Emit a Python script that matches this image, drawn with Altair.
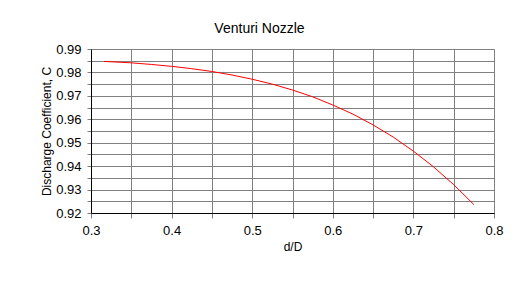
import altair as alt
import pandas as pd

ratio = [0.316, 0.35, 0.375, 0.4, 0.425, 0.45, 0.475, 0.5, 0.525, 0.55,
         0.575, 0.6, 0.625, 0.65, 0.675, 0.7, 0.725, 0.75, 0.775]
coef = [0.9847, 0.9841, 0.9834, 0.9826, 0.9816, 0.9804, 0.9789, 0.9771, 0.9750, 0.9725,
        0.9696, 0.9661, 0.9622, 0.9576, 0.9524, 0.9464, 0.9397, 0.9321, 0.9236]

x_grid = [0.3, 0.35, 0.4, 0.45, 0.5, 0.55, 0.6, 0.65, 0.7, 0.75, 0.8]
y_grid = [0.92, 0.925, 0.93, 0.935, 0.94, 0.945, 0.95, 0.955, 0.96, 0.965,
          0.97, 0.975, 0.98, 0.985, 0.99]

df = pd.DataFrame({"r": ratio, "c": coef})

FONT = "Liberation Sans"

chart = alt.Chart(df).mark_line(color="#ff0000", strokeWidth=1).encode(
    x=alt.X("r:Q", title="d/D",
            scale=alt.Scale(domain=[0.3, 0.8], nice=False, zero=False),
            axis=alt.Axis(values=x_grid,
                          labelExpr="abs(round(datum.value*100) % 10) == 0 ? format(datum.value, '.1f') : ''",
                          labelFlush=False,
                          grid=True, gridColor="#808080", gridOpacity=1, gridWidth=1,
                          domainColor="#000000", tickColor="#808080", tickSize=5,
                          labelPadding=6, labelFontSize=13, labelColor="#000000",
                          titleFontSize=12, titleFontWeight="normal", titleColor="#000000",
                          titlePadding=4, labelFont=FONT, titleFont=FONT)),
    y=alt.Y("c:Q", title="Discharge Coefficient, C",
            scale=alt.Scale(domain=[0.92, 0.99], nice=False, zero=False),
            axis=alt.Axis(values=y_grid,
                          labelExpr="abs(round(datum.value*1000) % 10) == 0 ? format(datum.value, '.2f') : ''",
                          labelFlush=False,
                          grid=True, gridColor="#808080", gridOpacity=1, gridWidth=1,
                          domainColor="#000000", tickColor="#808080", tickSize=4,
                          labelPadding=6, labelFontSize=13, labelColor="#000000",
                          titleFontSize=12, titleFontWeight="normal", titleColor="#000000",
                          titlePadding=2, labelFont=FONT, titleFont=FONT)),
).properties(
    width=403, height=164,
    title=alt.TitleParams("Venturi Nozzle", fontSize=14, fontWeight="normal",
                          font=FONT, color="#000000", offset=7, dx=-33),
    autosize=alt.AutoSizeParams(type="none"),
    padding={"left": 91, "top": 49, "right": 33, "bottom": 93},
).configure_view(stroke="#000000", strokeWidth=1).configure(background="#ffffff")

chart.save("out.html", embed_options={"renderer": "svg", "actions": False})
